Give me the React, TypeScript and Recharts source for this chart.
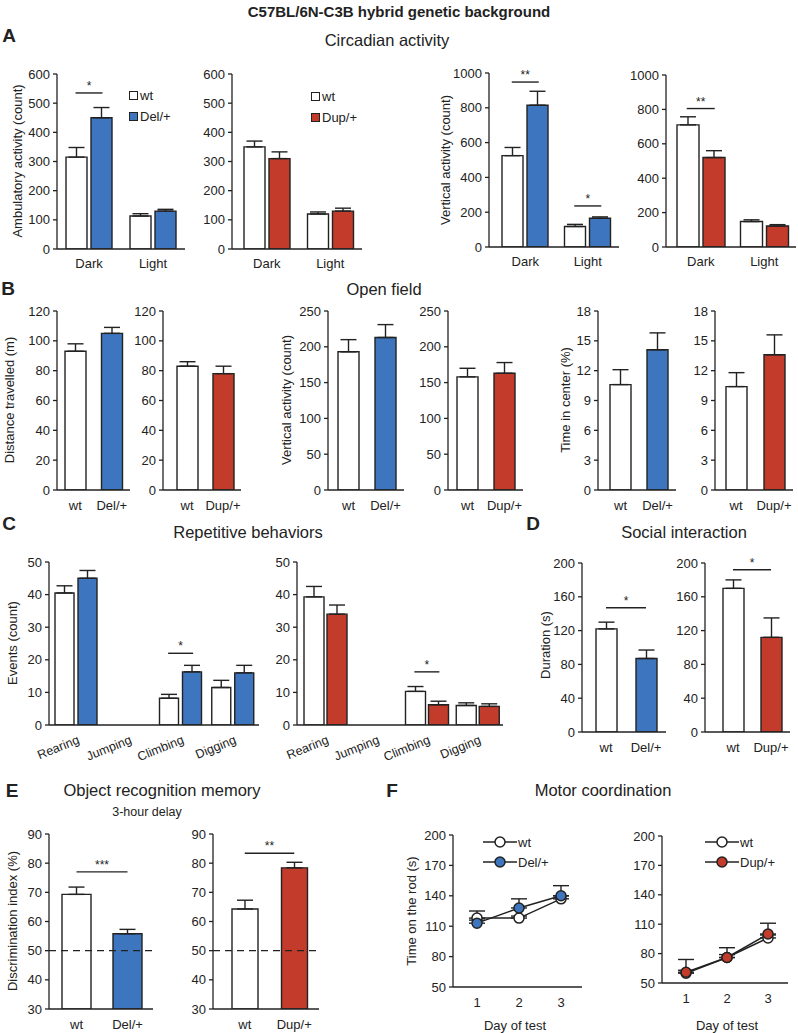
import React from "react";
import { BarChart, Bar, Cell, XAxis, YAxis, ErrorBar, ReferenceLine, LineChart, Line } from "recharts";

const INK = "#222";
const BLUE = "#3d76be";
const RED = "#c23b2b";
const FONT = "'Liberation Sans', Arial, Helvetica, sans-serif";

// ---- A: circadian activity ----
const phases = ["Dark", "Light"];
const ambWtDel = [315, 113];
const ambWtDelErr = [33, 8];
const ambDel = [450, 130];
const ambDelErr = [35, 6];
const ambWtDup = [350, 120];
const ambWtDupErr = [20, 7];
const ambDup = [310, 130];
const ambDupErr = [23, 10];
const ambTicks = [0, 100, 200, 300, 400, 500, 600];

const vertWtDel = [525, 118];
const vertWtDelErr = [47, 12];
const vertDel = [815, 165];
const vertDelErr = [80, 8];
const vertWtDup = [710, 148];
const vertWtDupErr = [47, 10];
const vertDup = [520, 122];
const vertDupErr = [40, 8];
const vertTicks = [0, 200, 400, 600, 800, 1000];

// ---- B: open field ----
const delGroups = ["wt", "Del/+"];
const dupGroups = ["wt", "Dup/+"];
const distDel = [93, 105];
const distDelErr = [5, 4];
const distDup = [83, 78];
const distDupErr = [3, 5];
const distTicks = [0, 20, 40, 60, 80, 100, 120];
const ofVertDel = [193, 213];
const ofVertDelErr = [17, 18];
const ofVertDup = [158, 163];
const ofVertDupErr = [12, 15];
const ofVertTicks = [0, 50, 100, 150, 200, 250];
const centerDel = [10.6, 14.1];
const centerDelErr = [1.5, 1.7];
const centerDup = [10.4, 13.6];
const centerDupErr = [1.4, 2.0];
const centerTicks = [0, 3, 6, 9, 12, 15, 18];

// ---- C: repetitive behaviors ----
const behaviors = ["Rearing", "Jumping", "Climbing", "Digging"];
const repWtDel = [40.5, 0, 8.2, 11.5];
const repWtDelErr = [2.2, 0, 1.2, 2.2];
const repDel = [45, 0, 16.3, 16];
const repDelErr = [2.4, 0, 2.0, 2.3];
const repWtDup = [39.3, 0, 10.3, 6.0];
const repWtDupErr = [3.2, 0, 1.5, 0.8];
const repDup = [34, 0, 6.2, 5.7];
const repDupErr = [2.8, 0, 1.1, 0.8];
const repTicks = [0, 10, 20, 30, 40, 50];

// ---- D: social interaction ----
const socialDel = [122, 87];
const socialDelErr = [8, 10];
const socialDup = [170, 112];
const socialDupErr = [10, 23];
const socialTicks = [0, 40, 80, 120, 160, 200];

// ---- E: object recognition ----
const novelDel = [69.3, 55.8];
const novelDelErr = [2.5, 1.5];
const novelDup = [64.3, 78.4];
const novelDupErr = [3.0, 1.9];
const novelTicks = [30, 40, 50, 60, 70, 80, 90];

// ---- F: rotarod ----
const days = ["1", "2", "3"];
const rodWtDel = [118, 118, 137];
const rodWtDelErr = [7, 2, 3];
const rodDel = [113, 128, 140];
const rodDelErr = [3, 9, 10];
const rodWtDup = [60, 76, 96];
const rodWtDupErr = [3, 3, 3];
const rodDup = [61, 76, 100];
const rodDupErr = [13, 10, 11];
const rodTicks = [50, 80, 110, 140, 170, 200];

const YW = 48;
const TOP = 12;
const RIGHT = 2;

const box = (x: number, top: number, bottom: number, right: number, xh: number) => ({
  style: { position: "absolute" as const, left: x - YW, top: top - TOP },
  width: right - x + YW + RIGHT,
  height: bottom - top + TOP + xh,
});

const sigShape = (label: string, ext: number) => (p: any) => (
  <g>
    <line x1={p.x1 - ext} x2={p.x2 + ext} y1={p.y1} y2={p.y1} stroke={INK} strokeWidth={1.4} />
    <text x={(p.x1 + p.x2) / 2} y={p.y1 - 3} textAnchor="middle" fontSize={12} fill={INK}>
      {label}
    </text>
  </g>
);

const SlantTick = (p: any) => {
  const tx = p.x + 4;
  const ty = p.y + 18;
  return (
    <text x={tx} y={ty} transform={`rotate(-22 ${tx} ${ty})`} textAnchor="end" fontSize={12.5} fill={INK}>
      {p.payload.value}
    </text>
  );
};

function yAxis(domain: number[], ticks: number[]) {
  return (
    <YAxis
      width={YW}
      type="number"
      domain={domain}
      ticks={ticks}
      interval={0}
      allowDataOverflow
      tickSize={4}
      tickMargin={3}
      tick={{ fontSize: 13, fill: INK }}
      axisLine={{ stroke: INK, strokeWidth: 1.3 }}
      tickLine={{ stroke: INK, strokeWidth: 1.3 }}
    />
  );
}

type Sig = { cat: string; y: number; label: string };

function GroupBars(props: {
  x: number; top: number; bottom: number; right: number; padL: number;
  cats: string[]; wt: number[]; wtErr: number[]; mut: number[]; mutErr: number[];
  color: string; ticks: number[]; barSize: number; barGap: number; sigs: Sig[]; slant?: boolean;
}) {
  const { x, top, bottom, right, padL, cats, wt, wtErr, mut, mutErr, color, ticks, barSize, barGap, sigs, slant } = props;
  const data = cats.map((c, i) => ({ cat: c, wt: wt[i], wtE: [0, wtErr[i]], mut: mut[i], mutE: [0, mutErr[i]] }));
  const b = box(x, top, bottom, right, slant ? 55 : 30);
  const ext = (barSize + barGap) / 2 + 1;
  return (
    <div style={b.style}>
      <BarChart width={b.width} height={b.height} data={data} margin={{ top: TOP, right: RIGHT, left: 0, bottom: 0 }} barGap={barGap} barSize={barSize}>
        <XAxis
          dataKey="cat"
          height={slant ? 55 : 30}
          interval={0}
          padding={{ left: padL, right: 0 }}
          tickLine={false}
          tickSize={slant ? 0 : 6}
          tickMargin={slant ? 0 : 4}
          tick={slant ? SlantTick : { fontSize: 13, fill: INK }}
          axisLine={{ stroke: INK, strokeWidth: 1.3 }}
        />
        {yAxis([ticks[0], ticks[ticks.length - 1]], ticks)}
        <Bar dataKey="wt" fill="#fff" stroke={INK} strokeWidth={1.4} isAnimationActive={false}>
          <ErrorBar dataKey="wtE" width={8} stroke={INK} strokeWidth={1.4} direction="y" />
        </Bar>
        <Bar dataKey="mut" fill={color} stroke={INK} strokeWidth={1.4} isAnimationActive={false}>
          <ErrorBar dataKey="mutE" width={8} stroke={INK} strokeWidth={1.4} direction="y" />
        </Bar>
        {sigs.map((s, i) => (
          <ReferenceLine key={i} segment={[{ x: s.cat, y: s.y }, { x: s.cat, y: s.y }]} ifOverflow="visible" shape={sigShape(s.label, ext)} />
        ))}
      </BarChart>
    </div>
  );
}

function PairBars(props: {
  x: number; top: number; bottom: number; right: number; padL: number;
  cats: string[]; values: number[]; errs: number[]; color: string; ticks: number[]; barSize: number;
  sig?: { y: number; label: string }; chance?: number;
}) {
  const { x, top, bottom, right, padL, cats, values, errs, color, ticks, barSize, sig, chance } = props;
  const data = cats.map((c, i) => ({ cat: c, v: values[i], e: [0, errs[i]] }));
  const b = box(x, top, bottom, right, 30);
  return (
    <div style={b.style}>
      <BarChart width={b.width} height={b.height} data={data} margin={{ top: TOP, right: RIGHT, left: 0, bottom: 0 }} barSize={barSize}>
        <XAxis
          dataKey="cat"
          height={30}
          interval={0}
          padding={{ left: padL, right: 0 }}
          tickLine={false}
          tickSize={6}
          tickMargin={5}
          tick={{ fontSize: 13, fill: INK }}
          axisLine={{ stroke: INK, strokeWidth: 1.3 }}
        />
        {yAxis([ticks[0], ticks[ticks.length - 1]], ticks)}
        <Bar dataKey="v" stroke={INK} strokeWidth={1.4} isAnimationActive={false}>
          {data.map((d, i) => (
            <Cell key={d.cat} fill={i === 0 ? "#fff" : color} />
          ))}
          <ErrorBar dataKey="e" width={8} stroke={INK} strokeWidth={1.4} direction="y" />
        </Bar>
        {chance !== undefined && (
          <ReferenceLine y={chance} stroke={INK} strokeWidth={1.4} strokeDasharray="7 5" />
        )}
        {sig && (
          <ReferenceLine segment={[{ x: cats[0], y: sig.y }, { x: cats[1], y: sig.y }]} ifOverflow="visible" shape={sigShape(sig.label, 0)} />
        )}
      </BarChart>
    </div>
  );
}

function RodPanel(props: {
  x: number; top: number; bottom: number; right: number; padL: number; padR: number;
  wt: number[]; wtErr: number[]; mut: number[]; mutErr: number[]; color: string;
}) {
  const { x, top, bottom, right, padL, padR, wt, wtErr, mut, mutErr, color } = props;
  const data = days.map((d, i) => ({ day: d, wt: wt[i], wtE: [0, wtErr[i]], mut: mut[i], mutE: [0, mutErr[i]] }));
  const b = box(x, top, bottom, right, 30);
  return (
    <div style={b.style}>
      <LineChart width={b.width} height={b.height} data={data} margin={{ top: TOP, right: RIGHT, left: 0, bottom: 0 }}>
        <XAxis
          dataKey="day"
          height={30}
          interval={0}
          padding={{ left: padL, right: padR }}
          tickLine={false}
          tickSize={6}
          tickMargin={5}
          tick={{ fontSize: 13, fill: INK }}
          axisLine={{ stroke: INK, strokeWidth: 1.3 }}
        />
        {yAxis([50, 200], rodTicks)}
        <Line dataKey="wt" type="linear" stroke={INK} strokeWidth={1.5} isAnimationActive={false} activeDot={false}
          dot={{ r: 5, fill: "#fff", stroke: INK, strokeWidth: 1.5 }}>
          <ErrorBar dataKey="wtE" width={8} stroke={INK} strokeWidth={1.4} direction="y" />
        </Line>
        <Line dataKey="mut" type="linear" stroke={INK} strokeWidth={1.5} isAnimationActive={false} activeDot={false}
          dot={{ r: 5, fill: color, stroke: INK, strokeWidth: 1.5 }}>
          <ErrorBar dataKey="mutE" width={8} stroke={INK} strokeWidth={1.4} direction="y" />
        </Line>
      </LineChart>
    </div>
  );
}

function Txt(p: { x: number; y: number; children: React.ReactNode; size?: number; bold?: boolean; rot?: boolean }) {
  return (
    <div
      style={{
        position: "absolute",
        left: p.x,
        top: p.y,
        transform: `translate(-50%, -50%)${p.rot ? " rotate(-90deg)" : ""}`,
        whiteSpace: "nowrap",
        fontSize: p.size ?? 13,
        fontWeight: p.bold ? 700 : 400,
        lineHeight: 1,
      }}
    >
      {p.children}
    </div>
  );
}

function BoxLegend(p: { x: number; y: number; items: { label: string; fill: string }[] }) {
  return (
    <div style={{ position: "absolute", left: p.x, top: p.y, fontSize: 13, lineHeight: "21px" }}>
      {p.items.map((it) => (
        <div key={it.label} style={{ display: "flex", alignItems: "center", height: 21 }}>
          <span style={{ width: 7, height: 7, background: it.fill, border: `1.3px solid ${INK}`, marginRight: 2 }} />
          {it.label}
        </div>
      ))}
    </div>
  );
}

function LineLegend(p: { x: number; y: number; items: { label: string; fill: string }[] }) {
  return (
    <div style={{ position: "absolute", left: p.x, top: p.y, fontSize: 13 }}>
      {p.items.map((it) => (
        <div key={it.label} style={{ display: "flex", alignItems: "center", height: 20 }}>
          <svg width={34} height={14}>
            <line x1={0} x2={34} y1={7} y2={7} stroke={INK} strokeWidth={1.5} />
            <circle cx={17} cy={7} r={5} fill={it.fill} stroke={INK} strokeWidth={1.5} />
          </svg>
          <span style={{ marginLeft: 1 }}>{it.label}</span>
        </div>
      ))}
    </div>
  );
}

export default function App() {
  return (
    <div
      style={{
        position: "absolute",
        left: 0,
        top: 0,
        width: 798,
        height: 1033,
        overflow: "hidden",
        background: "#fff",
        color: INK,
        fontFamily: FONT,
      }}
    >
      <Txt x={399} y={11} size={15} bold>C57BL/6N-C3B hybrid genetic background</Txt>

      {/* A */}
      <Txt x={9} y={35} size={19} bold>A</Txt>
      <Txt x={387} y={40} size={16.5}>Circadian activity</Txt>
      <Txt x={17} y={161} rot>Ambulatory activity (count)</Txt>
      <Txt x={445} y={160} rot>Vertical activity (count)</Txt>
      <GroupBars x={57} top={74} bottom={249} right={185} padL={0} cats={phases} wt={ambWtDel} wtErr={ambWtDelErr}
        mut={ambDel} mutErr={ambDelErr} color={BLUE} ticks={ambTicks} barSize={21} barGap={4}
        sigs={[{ cat: "Dark", y: 535, label: "*" }]} />
      <GroupBars x={232} top={74} bottom={249} right={362} padL={3} cats={phases} wt={ambWtDup} wtErr={ambWtDupErr}
        mut={ambDup} mutErr={ambDupErr} color={RED} ticks={ambTicks} barSize={21} barGap={4} sigs={[]} />
      <GroupBars x={489} top={73} bottom={247} right={619} padL={5} cats={phases} wt={vertWtDel} wtErr={vertWtDelErr}
        mut={vertDel} mutErr={vertDelErr} color={BLUE} ticks={vertTicks} barSize={21} barGap={4}
        sigs={[{ cat: "Dark", y: 948, label: "**" }, { cat: "Light", y: 236, label: "*" }]} />
      <GroupBars x={666} top={75} bottom={247} right={796} padL={3} cats={phases} wt={vertWtDup} wtErr={vertWtDupErr}
        mut={vertDup} mutErr={vertDupErr} color={RED} ticks={vertTicks} barSize={22} barGap={4}
        sigs={[{ cat: "Dark", y: 805, label: "**" }]} />
      <BoxLegend x={129} y={85} items={[{ label: "wt", fill: "#fff" }, { label: "Del/+", fill: BLUE }]} />
      <BoxLegend x={311} y={86} items={[{ label: "wt", fill: "#fff" }, { label: "Dup/+", fill: RED }]} />

      {/* B */}
      <Txt x={8} y={288} size={19} bold>B</Txt>
      <Txt x={384} y={289} size={16.5}>Open field</Txt>
      <Txt x={9} y={400} rot>Distance travelled (m)</Txt>
      <Txt x={286} y={400} rot>Vertical activity (count)</Txt>
      <Txt x={565} y={400} rot>Time in center (%)</Txt>
      <PairBars x={57} top={311} bottom={490} right={130} padL={0} cats={delGroups} values={distDel} errs={distDelErr}
        color={BLUE} ticks={distTicks} barSize={21} />
      <PairBars x={163} top={311} bottom={490} right={241} padL={6} cats={dupGroups} values={distDup} errs={distDupErr}
        color={RED} ticks={distTicks} barSize={21} />
      <PairBars x={328} top={311} bottom={490} right={404} padL={2} cats={delGroups} values={ofVertDel} errs={ofVertDelErr}
        color={BLUE} ticks={ofVertTicks} barSize={21} />
      <PairBars x={448} top={311} bottom={490} right={523} padL={1} cats={dupGroups} values={ofVertDup} errs={ofVertDupErr}
        color={RED} ticks={ofVertTicks} barSize={21} />
      <PairBars x={598} top={311} bottom={490} right={676} padL={4} cats={delGroups} values={centerDel} errs={centerDelErr}
        color={BLUE} ticks={centerTicks} barSize={21} />
      <PairBars x={715} top={311} bottom={490} right={793} padL={2} cats={dupGroups} values={centerDup} errs={centerDupErr}
        color={RED} ticks={centerTicks} barSize={21} />

      {/* C */}
      <Txt x={9} y={523} size={19} bold>C</Txt>
      <Txt x={248} y={532} size={16.5}>Repetitive behaviors</Txt>
      <Txt x={12} y={643} rot>Events (count)</Txt>
      <GroupBars x={49} top={562} bottom={725} right={259} padL={1} cats={behaviors} wt={repWtDel} wtErr={repWtDelErr}
        mut={repDel} mutErr={repDelErr} color={BLUE} ticks={repTicks} barSize={19} barGap={4} slant
        sigs={[{ cat: "Climbing", y: 22, label: "*" }]} />
      <GroupBars x={297} top={562} bottom={725} right={503} padL={3} cats={behaviors} wt={repWtDup} wtErr={repWtDupErr}
        mut={repDup} mutErr={repDupErr} color={RED} ticks={repTicks} barSize={20} barGap={3} slant
        sigs={[{ cat: "Climbing", y: 16.3, label: "*" }]} />

      {/* D */}
      <Txt x={533} y={523} size={19} bold>D</Txt>
      <Txt x={684} y={532} size={16.5}>Social interaction</Txt>
      <Txt x={545} y={645} rot>Duration (s)</Txt>
      <PairBars x={582} top={563} bottom={732} right={666} padL={4} cats={delGroups} values={socialDel} errs={socialDelErr}
        color={BLUE} ticks={socialTicks} barSize={21} sig={{ y: 147, label: "*" }} />
      <PairBars x={705} top={563} bottom={732} right={790} padL={9} cats={dupGroups} values={socialDup} errs={socialDupErr}
        color={RED} ticks={socialTicks} barSize={21} sig={{ y: 192, label: "*" }} />

      {/* E */}
      <Txt x={12} y={790} size={19} bold>E</Txt>
      <Txt x={162} y={790} size={16.5}>Object recognition memory</Txt>
      <Txt x={147} y={812} size={12.5}>3-hour delay</Txt>
      <Txt x={12} y={921} rot>Discrimination index (%)</Txt>
      <PairBars x={49} top={834} bottom={1009} right={153} padL={2} cats={delGroups} values={novelDel} errs={novelDelErr}
        color={BLUE} ticks={novelTicks} barSize={29} sig={{ y: 77, label: "***" }} chance={50} />
      <PairBars x={213} top={834} bottom={1009} right={319} padL={7} cats={dupGroups} values={novelDup} errs={novelDupErr}
        color={RED} ticks={novelTicks} barSize={26} sig={{ y: 83.4, label: "**" }} chance={50} />

      {/* F */}
      <Txt x={392} y={790} size={19} bold>F</Txt>
      <Txt x={603} y={790} size={16.5}>Motor coordination</Txt>
      <Txt x={411} y={911} rot>Time on the rod (s)</Txt>
      <RodPanel x={453} top={835} bottom={987} right={582} padL={24} padR={21} wt={rodWtDel} wtErr={rodWtDelErr}
        mut={rodDel} mutErr={rodDelErr} color={BLUE} />
      <RodPanel x={662} top={836} bottom={983} right={788} padL={24} padR={20} wt={rodWtDup} wtErr={rodWtDupErr}
        mut={rodDup} mutErr={rodDupErr} color={RED} />
      <LineLegend x={483} y={832} items={[{ label: "wt", fill: "#fff" }, { label: "Del/+", fill: BLUE }]} />
      <LineLegend x={705} y={832} items={[{ label: "wt", fill: "#fff" }, { label: "Dup/+", fill: RED }]} />
      <Txt x={515} y={1025}>Day of test</Txt>
      <Txt x={727} y={1025}>Day of test</Txt>
    </div>
  );
}
